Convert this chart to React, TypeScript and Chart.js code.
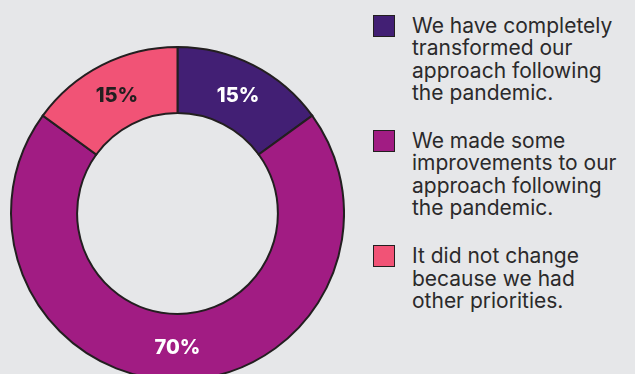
import React, { useEffect, useRef } from "react";
import { Chart, registerables } from "chart.js";

Chart.register(...registerables);

const categories: string[] = [
  "We have completely transformed our approach following the pandemic.",
  "We made some improvements to our approach following the pandemic.",
  "It did not change because we had other priorities.",
];
const legendLines: string[][] = [
  ["We have completely", "transformed our", "approach following", "the pandemic."],
  ["We made some", "improvements to our", "approach following", "the pandemic."],
  ["It did not change", "because we had", "other priorities."],
];
const values: number[] = [15, 70, 15];
const colors: string[] = ["#421f74", "#a11c83", "#f15376"];
const labelColors: string[] = ["#ffffff", "#ffffff", "#231f20"];

const BG = "#e6e7e9";
const BORDER = "#231f20";

const valueLabels = {
  id: "valueLabels",
  afterDatasetsDraw(chart: any) {
    const ctx = chart.ctx;
    const meta = chart.getDatasetMeta(0);
    ctx.save();
    ctx.font = "800 20px Inter, 'Open Sans', sans-serif";
    ctx.textAlign = "center";
    ctx.textBaseline = "middle";
    meta.data.forEach((arc: any, i: number) => {
      const p = arc.tooltipPosition();
      ctx.fillStyle = labelColors[i];
      ctx.fillText(values[i] + "%", p.x, p.y + 1.5);
    });
    ctx.restore();
  },
};

export default function App() {
  const ref = useRef<HTMLCanvasElement | null>(null);

  useEffect(() => {
    document.body.style.margin = "0";
    document.body.style.background = BG;
    const chart = new Chart(ref.current as HTMLCanvasElement, {
      type: "doughnut",
      data: {
        labels: categories,
        datasets: [
          {
            data: values,
            backgroundColor: colors,
            borderColor: BORDER,
            borderWidth: 2,
            hoverOffset: 0,
            borderJoinStyle: "miter",
          } as any,
        ],
      },
      options: {
        responsive: false,
        animation: false,
        cutout: "60.3%",
        layout: { padding: 0 },
        plugins: {
          legend: { display: false },
          tooltip: { enabled: false },
        },
      },
      plugins: [valueLabels],
    });
    return () => chart.destroy();
  }, []);

  return (
    <div
      style={{
        position: "relative",
        width: 635,
        height: 374,
        overflow: "hidden",
        background: BG,
      }}
    >
      <canvas
        ref={ref}
        width={335}
        height={335}
        style={{ position: "absolute", left: 10, top: 46, width: 335, height: 335 }}
      />
      <div
        style={{
          position: "absolute",
          left: 373,
          top: 15,
          display: "flex",
          flexDirection: "column",
          gap: 26,
          fontFamily: "Inter, 'Open Sans', sans-serif",
          fontSize: 21,
          lineHeight: "22.3px",
          color: "#2b2a2b",
        }}
      >
        {legendLines.map((lines, i) => (
          <div key={i} style={{ display: "flex", alignItems: "flex-start" }}>
            <div
              style={{
                width: 20,
                height: 20,
                background: colors[i],
                border: "1px solid " + BORDER,
                flex: "none",
                marginRight: 17,
              }}
            />
            <div style={{ whiteSpace: "nowrap" }}>
              {lines.map((l, j) => (
                <div key={j}>{l}</div>
              ))}
            </div>
          </div>
        ))}
      </div>
    </div>
  );
}
